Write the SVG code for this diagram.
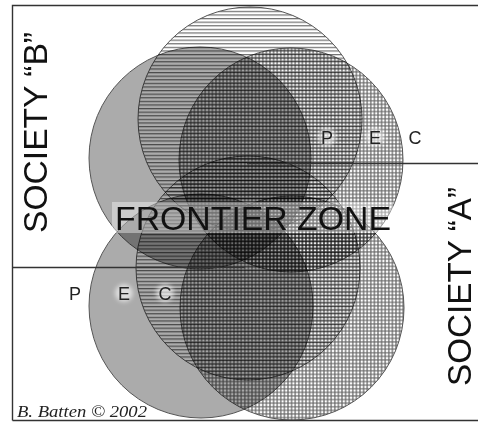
<svg xmlns="http://www.w3.org/2000/svg" width="478" height="422" viewBox="0 0 478 422">
<defs>
  <pattern id="stripes" width="6" height="3.6" patternUnits="userSpaceOnUse">
    <rect width="6" height="3.6" fill="#fff"/>
    <rect y="0" width="6" height="1.2" fill="#6e6e6e"/>
  </pattern>
  <pattern id="dots" width="3.6" height="3.6" patternUnits="userSpaceOnUse">
    <rect width="3.6" height="3.6" fill="#787878"/>
    <circle cx="1.8" cy="1.8" r="1.25" fill="#fff"/>
  </pattern>
  <filter id="blur" x="-50%" y="-50%" width="200%" height="200%"><feGaussianBlur stdDeviation="2"/></filter>
</defs>
<style>
  .c{mix-blend-mode:multiply;stroke:#555;stroke-width:1}
  .p{fill:#ababab}
  .e{fill:url(#stripes)}
  .k{fill:url(#dots)}
  .lbl{font-family:"Liberation Sans",Arial,sans-serif;font-size:18px;fill:#222;text-anchor:middle}
  .halo{fill:#fff;opacity:.6}
  .soc{font-family:"Liberation Sans",Arial,sans-serif;font-size:33px;fill:#111;text-anchor:middle}
  .line{stroke:#333;stroke-width:1.4;fill:none}
</style>
<rect width="478" height="422" fill="#fff"/>
<g id="spheres">
  <g id="societyB-P"><circle class="c p" cx="200" cy="158" r="111"/></g>
  <g id="societyB-E"><circle class="c e" cx="250" cy="119" r="112"/></g>
  <g id="societyB-C"><circle class="c k" cx="291" cy="160" r="112"/></g>
  <g id="societyA-P"><circle class="c p" cx="201" cy="306" r="112"/></g>
  <g id="societyA-E"><circle class="c e" cx="248" cy="268" r="112"/></g>
  <g id="societyA-C"><circle class="c k" cx="292" cy="308" r="112"/></g>
</g>
<g id="connectors">
  <path class="line" d="M12.5,420.5 V5.5 H478 M12.5,420.5 H478"/>
  <path class="line" d="M247,163.5 H478 M12.5,267.5 H245"/>
</g>
<g id="frontier-zone">
  <rect x="112" y="202" width="281" height="31" fill="#fff" opacity="0.4"/>
  <text x="115" y="230" font-family="'Liberation Sans',Arial,sans-serif" font-size="33" fill="#111" textLength="276" lengthAdjust="spacingAndGlyphs">FRONTIER ZONE</text>
</g>
<g id="labels-B">
  <g filter="url(#blur)">
    <circle class="halo" cx="327" cy="137" r="9"/>
    <circle class="halo" cx="375" cy="137" r="9"/>
    <circle class="halo" cx="415" cy="137" r="9"/>
  </g>
  <text class="lbl" x="327" y="143.5">P</text>
  <text class="lbl" x="375" y="143.5">E</text>
  <text class="lbl" x="415" y="143.5">C</text>
</g>
<g id="labels-A">
  <g filter="url(#blur)">
    <circle class="halo" cx="75" cy="293" r="9"/>
    <circle class="halo" cx="124" cy="293" r="9"/>
    <circle class="halo" cx="165" cy="293" r="9"/>
  </g>
  <text class="lbl" x="75" y="299.5">P</text>
  <text class="lbl" x="124" y="299.5">E</text>
  <text class="lbl" x="165" y="299.5">C</text>
</g>
<g id="society-B">
  <text class="soc" transform="translate(47,132.5) rotate(-90)" textLength="201" lengthAdjust="spacingAndGlyphs">SOCIETY “B”</text>
</g>
<g id="society-A">
  <text class="soc" transform="translate(471,286.5) rotate(-90)" textLength="199" lengthAdjust="spacingAndGlyphs">SOCIETY “A”</text>
</g>
<g id="credit">
  <text x="17" y="417" font-family="'Liberation Serif','Times New Roman',serif" font-style="italic" font-size="16" fill="#222" textLength="130" lengthAdjust="spacingAndGlyphs">B. Batten © 2002</text>
</g>
</svg>
